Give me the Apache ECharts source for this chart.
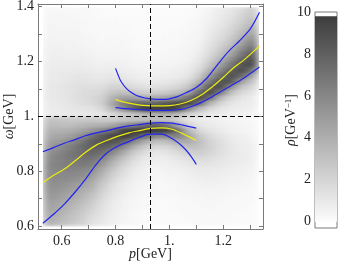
<!DOCTYPE html>
<html><head><meta charset="utf-8">
<script src="https://cdn.jsdelivr.net/npm/echarts@6/dist/echarts.min.js"></script>
<style>html,body{margin:0;padding:0;background:#fff;}
#wrap{position:relative;width:354px;height:264px;}
#heat{position:absolute;filter:url(#smooth);}
#c{position:absolute;left:0;top:0;width:354px;height:264px;}</style>
</head><body>
<svg width="0" height="0" style="position:absolute"><defs>
<filter id="smooth" x="0" y="0" width="1" height="1" color-interpolation-filters="sRGB">
<feGaussianBlur stdDeviation="4 1.8" edgeMode="duplicate"/></filter></defs></svg>
<div id="wrap"><div id="heat"></div><div id="c"></div></div>
<script>
// ---------- data ----------
const pCenters = [0.55,0.59,0.63,0.67,0.71,0.75,0.79,0.83,0.87,0.91,0.95,0.99,1.03,1.07,1.11,1.15,1.19,1.23,1.27,1.31];
const omegaCenters = [0.61,0.63,0.65,0.67,0.69,0.71,0.73,0.75,0.77,0.79,0.81,0.83,0.85,0.87,0.89,0.91,0.93,0.95,0.97,0.99,
  1.01,1.03,1.05,1.07,1.09,1.11,1.13,1.15,1.17,1.19,1.21,1.23,1.25,1.27,1.29,1.31,1.33,1.35,1.37,1.39];
// rho[GeV^-1], one column per p, from omega=0.61 up to omega=1.39
const rhoColumns = [
 [3.8,4.1,4.4,4.7,4.9,5.2,5.4,5.6,5.8,5.9,6.0,6.0,5.8,5.5,5.1,4.7,4.2,3.8,3.4,3.0, 0.8,0.9,0.9,1.0,1.0,1.0,1.0,0.9,0.9,0.8,0.7,0.7,0.6,0.5,0.5,0.4,0.4,0.3,0.3,0.3],
 [3.3,3.6,3.9,4.2,4.5,4.9,5.2,5.5,5.8,6.0,6.2,6.3,6.3,6.1,5.6,5.0,4.4,3.8,3.3,2.8, 0.9,0.9,1.0,1.1,1.1,1.1,1.0,1.0,0.9,0.8,0.7,0.6,0.6,0.5,0.4,0.4,0.3,0.3,0.3,0.2],
 [2.7,3.0,3.3,3.7,4.0,4.4,4.8,5.2,5.6,6.0,6.4,6.6,6.8,6.8,6.4,5.7,4.8,4.0,3.2,2.7, 1.0,1.1,1.2,1.3,1.3,1.3,1.2,1.1,0.9,0.8,0.7,0.6,0.5,0.5,0.4,0.4,0.3,0.3,0.3,0.2],
 [2.2,2.5,2.7,3.0,3.4,3.8,4.2,4.7,5.3,5.8,6.3,6.8,7.1,7.3,7.4,6.7,5.6,4.5,3.5,2.7, 1.0,1.2,1.5,1.6,1.6,1.5,1.3,1.2,1.0,0.8,0.7,0.6,0.5,0.4,0.4,0.3,0.3,0.3,0.2,0.2],
 [1.4,1.6,1.9,2.2,2.6,3.0,3.5,4.0,4.5,5.2,5.9,6.6,7.2,7.8,8.1,8.1,7.0,5.2,3.8,2.7, 1.0,1.3,1.7,1.8,1.7,1.5,1.2,1.1,0.8,0.7,0.6,0.5,0.4,0.3,0.3,0.2,0.2,0.2,0.2,0.2],
 [1.0,1.1,1.3,1.4,1.6,1.9,2.2,2.6,3.1,3.7,4.4,5.3,6.3,7.3,8.2,8.7,8.4,6.1,3.9,2.6, 1.2,1.8,2.3,2.2,1.9,1.6,1.2,1.0,0.8,0.6,0.5,0.4,0.3,0.3,0.2,0.2,0.2,0.2,0.1,0.1],
 [0.6,0.6,0.7,0.8,0.9,1.1,1.3,1.5,1.9,2.3,2.9,3.6,4.6,5.9,7.4,8.8,9.5,7.5,4.4,2.5, 1.9,3.6,4.5,3.8,2.9,2.1,1.5,1.1,0.8,0.7,0.5,0.4,0.4,0.3,0.3,0.2,0.2,0.2,0.1,0.1],
 [0.3,0.4,0.4,0.5,0.5,0.6,0.8,0.9,1.1,1.4,1.7,2.3,3.0,4.2,5.8,7.9,9.8,9.5,5.5,2.9, 2.5,5.8,6.7,4.8,3.1,2.0,1.4,1.0,0.7,0.6,0.5,0.4,0.3,0.3,0.2,0.2,0.2,0.1,0.1,0.1],
 [0.2,0.2,0.2,0.3,0.3,0.4,0.4,0.5,0.6,0.8,1.0,1.3,1.8,2.5,3.8,5.9,8.8,10,6.4,3.0, 2.9,8.1,7.8,4.6,2.7,1.6,1.1,0.8,0.6,0.4,0.3,0.3,0.2,0.2,0.2,0.1,0.1,0.1,0.1,0.1],
 [0.1,0.1,0.1,0.2,0.2,0.2,0.3,0.3,0.4,0.5,0.6,0.8,1.1,1.6,2.5,4.1,7.3,10,7.5,3.1, 3.6,10,7.7,4.0,2.2,1.4,0.9,0.6,0.5,0.4,0.3,0.2,0.2,0.2,0.1,0.1,0.1,0.1,0.1,0.1],
 [0.1,0.1,0.1,0.1,0.1,0.2,0.2,0.2,0.3,0.3,0.4,0.6,0.8,1.1,1.8,3.1,5.9,10,8.1,3.1, 4.0,10,7.9,4.1,2.3,1.4,0.9,0.7,0.5,0.4,0.3,0.2,0.2,0.2,0.1,0.1,0.1,0.1,0.1,0.1],
 [0.1,0.1,0.1,0.1,0.1,0.2,0.2,0.2,0.3,0.4,0.5,0.6,0.8,1.2,1.9,3.2,5.9,9.5,7.0,2.9, 4.1,10,8.4,4.6,2.6,1.6,1.1,0.7,0.6,0.4,0.3,0.3,0.2,0.2,0.2,0.1,0.1,0.1,0.1,0.1],
 [0.1,0.1,0.1,0.2,0.2,0.2,0.3,0.3,0.4,0.5,0.6,0.8,1.2,1.7,2.6,4.1,6.3,7.5,4.5,2.2, 3.4,9.5,9.1,5.4,3.1,1.9,1.3,0.9,0.7,0.5,0.4,0.3,0.3,0.2,0.2,0.2,0.1,0.1,0.1,0.1],
 [0.1,0.2,0.2,0.2,0.2,0.3,0.3,0.4,0.5,0.6,0.8,1.1,1.5,2.2,3.1,4.2,4.8,3.6,2.1,1.2, 2.2,5.8,9.4,7.0,4.3,2.7,1.8,1.2,0.9,0.7,0.5,0.4,0.4,0.3,0.3,0.2,0.2,0.2,0.1,0.1],
 [0.2,0.2,0.2,0.2,0.3,0.3,0.4,0.5,0.6,0.8,1.0,1.4,1.8,2.4,2.9,3.2,2.8,1.9,1.2,0.8, 1.6,3.4,7.4,9.3,7.5,5.2,3.5,2.4,1.7,1.3,1.0,0.8,0.6,0.5,0.4,0.4,0.3,0.3,0.2,0.2],
 [0.2,0.2,0.2,0.3,0.3,0.4,0.4,0.5,0.7,0.8,1.0,1.3,1.6,2.0,2.2,2.1,1.8,1.3,0.9,0.7, 1.0,1.9,3.7,7.3,9.3,8.3,6.7,5.0,3.8,2.8,2.2,1.7,1.4,1.2,1.0,0.9,0.7,0.6,0.5,0.4],
 [0.2,0.2,0.2,0.2,0.3,0.3,0.4,0.5,0.6,0.7,0.9,1.1,1.3,1.5,1.6,1.5,1.2,0.9,0.7,0.5, 0.8,1.2,2.0,3.5,6.6,9.1,8.7,7.5,6.0,4.8,3.8,3.0,2.4,2.0,1.6,1.4,1.2,1.0,0.9,0.8],
 [0.1,0.2,0.2,0.2,0.2,0.3,0.3,0.4,0.5,0.6,0.7,0.9,1.0,1.1,1.1,1.0,0.8,0.6,0.5,0.4, 0.6,0.9,1.2,1.9,3.1,5.5,8.6,8.9,8.1,6.9,5.7,4.6,3.7,3.0,2.5,2.1,1.8,1.5,1.3,1.1],
 [0.1,0.1,0.1,0.2,0.2,0.2,0.3,0.3,0.4,0.5,0.6,0.7,0.8,0.8,0.8,0.7,0.6,0.4,0.4,0.3, 0.5,0.7,0.9,1.2,1.8,2.8,4.6,7.5,9.1,8.8,7.9,6.8,5.7,4.7,3.8,3.2,2.7,2.3,2.0,1.7],
 [0.1,0.1,0.1,0.1,0.2,0.2,0.2,0.3,0.3,0.4,0.5,0.6,0.6,0.6,0.6,0.5,0.4,0.3,0.3,0.2, 0.4,0.6,0.8,0.9,1.3,1.9,2.8,4.3,6.8,9.1,9.1,8.5,7.5,6.5,5.5,4.6,3.9,3.3,2.8,2.4]
];
// lower branch curves
const pLowUpper = [0.53,0.57,0.61,0.65,0.69,0.73,0.77,0.81,0.85,0.89,0.93,0.97,1.01,1.05,1.10];
const wLowUpper = [0.871,0.886,0.902,0.915,0.930,0.940,0.948,0.958,0.965,0.970,0.975,0.977,0.975,0.968,0.957];
const pLowMean = [0.53,0.57,0.61,0.65,0.69,0.73,0.77,0.81,0.85,0.89,0.93,0.97,1.01,1.05,1.10];
const wLowMean = [0.758,0.785,0.808,0.838,0.870,0.896,0.913,0.928,0.940,0.948,0.956,0.958,0.953,0.937,0.912];
const pLowLower = [0.53,0.57,0.61,0.65,0.69,0.73,0.77,0.81,0.85,0.89,0.93,0.97,1.01,1.05,1.08,1.10];
const wLowLower = [0.610,0.643,0.680,0.724,0.773,0.827,0.868,0.892,0.908,0.924,0.935,0.935,0.919,0.889,0.855,0.825];
// upper branch curves
const pUpUpper = [0.80,0.81,0.82,0.84,0.86,0.88,0.91,0.94,0.97,1.00,1.03,1.06,1.10,1.14,1.18,1.22,1.26,1.30,1.335];
const wUpUpper = [1.175,1.150,1.128,1.102,1.086,1.075,1.067,1.063,1.062,1.064,1.072,1.085,1.105,1.140,1.190,1.237,1.275,1.318,1.380];
const pUpMean = [0.80,0.84,0.88,0.92,0.96,1.00,1.04,1.08,1.12,1.16,1.20,1.24,1.28,1.335];
const wUpMean = [1.061,1.050,1.043,1.039,1.038,1.039,1.045,1.058,1.079,1.108,1.142,1.178,1.208,1.257];
const pUpLower = [0.80,0.84,0.88,0.92,0.96,1.00,1.04,1.08,1.12,1.16,1.20,1.24,1.28,1.335];
const wUpLower = [1.032,1.028,1.025,1.023,1.022,1.022,1.025,1.035,1.051,1.072,1.095,1.118,1.142,1.180];
// reference lines
const refP = 0.933;
const refOmega = 1.0;
// ticks
const pTicks = [0.6,0.7,0.8,0.9,1.0,1.1,1.2,1.3];
const pLabels = [0.6,0.8,1.0,1.2];
const wTicks = [0.6,0.7,0.8,0.9,1.0,1.1,1.2,1.3,1.4];
const wLabels = [0.6,0.8,1.0,1.2,1.4];
const barTicks = [0,2,4,6,8,10];
const rhoMax = 10;
const barTop = 9.8;

// ---------- chart ----------
const FONT = 'Liberation Serif';
const FS = 14;
const frameColor = '#7a7a7a';
const txt = '#222';
const cellW = 0.04, cellH = 0.02;
const heatPMin = 0.53, heatPMax = 1.33, heatWMin = 0.60, heatWMax = 1.40;
const cells = [];
pCenters.forEach((p, j) => omegaCenters.forEach((w, i) => cells.push([p, w, rhoColumns[j][i]])));
const zip = (a, b) => a.map((v, i) => [v, b[i]]);
const fmt = v => Math.abs(v - 1) < 1e-9 ? '1.' : v.toFixed(1);
const italic = {fontFamily: FONT, fontSize: FS, fontStyle: 'italic', color: txt};

const chart = echarts.init(document.getElementById('c'), null, {renderer: 'canvas'});
const baseX = {type: 'value', gridIndex: 0, min: 0.512, max: 1.348, splitLine: {show: false},
  axisLine: {show: true, onZero: false, lineStyle: {color: frameColor, width: 1}},
  axisTick: {show: true, inside: true, length: 4, customValues: pTicks, lineStyle: {color: frameColor}}};
const baseY = {type: 'value', gridIndex: 0, min: 0.589, max: 1.410, splitLine: {show: false},
  axisLine: {show: true, onZero: false, lineStyle: {color: frameColor, width: 1}},
  axisTick: {show: true, inside: true, length: 4, customValues: wTicks, lineStyle: {color: frameColor}}};
const lineS = (p, w, color) => ({type: 'line', xAxisIndex: 0, yAxisIndex: 0, data: zip(p, w), showSymbol: false,
  smooth: 0.3, lineStyle: {color, width: 1.2}, itemStyle: {color}, z: 4, silent: true, animation: false});

chart.setOption({
  animation: false,
  backgroundColor: 'transparent',
  grid: [
    {left: 38, top: 4, width: 225, height: 225, containLabel: false, outerBoundsMode: 'none'},
    {left: 315, top: 12, width: 22, height: 216, containLabel: false, outerBoundsMode: 'none',
      show: true, borderColor: frameColor, borderWidth: 1}
  ],
  xAxis: [
    Object.assign({}, baseX, {position: 'bottom',
      axisLabel: {customValues: pLabels, formatter: fmt, margin: 5, fontFamily: FONT, fontSize: FS, color: txt},
      name: '{i|p}[GeV]', nameLocation: 'middle', nameGap: 18, nameMoveOverlap: false,
      nameTextStyle: {fontFamily: FONT, fontSize: FS, color: txt, rich: {i: italic}}}),
    Object.assign({}, baseX, {position: 'top', axisLabel: {show: false}}),
    {type: 'category', gridIndex: 1, data: ['rho'], show: false}
  ],
  yAxis: [
    Object.assign({}, baseY, {position: 'left',
      axisLabel: {customValues: wLabels, formatter: fmt, margin: 4, fontFamily: FONT, fontSize: FS, color: txt},
      name: '{i|ω}[GeV]', nameLocation: 'middle', nameGap: 22, nameMoveOverlap: false,
      nameTextStyle: {fontFamily: FONT, fontSize: FS, color: txt, rich: {i: italic}}}),
    Object.assign({}, baseY, {position: 'right', axisLabel: {show: false}}),
    {type: 'value', gridIndex: 1, min: -0.3, max: rhoMax, position: 'left', splitLine: {show: false},
      axisLine: {show: false}, axisTick: {show: false},
      axisLabel: {customValues: barTicks, margin: 4, fontFamily: FONT, fontSize: FS, color: txt},
      name: '{i|ρ}[GeV{s|−1}]', nameLocation: 'middle', nameGap: 17, nameMoveOverlap: false,
      nameTextStyle: {fontFamily: FONT, fontSize: FS, color: txt, rich: {
        i: italic,
        s: {fontFamily: FONT, fontSize: 9, color: txt, verticalAlign: 'top', lineHeight: 14}}}}
  ],
  series: [
    Object.assign(lineS(pLowUpper, wLowUpper, '#2323f0'), {markLine: {silent: true, symbol: ['none', 'none'],
      label: {show: false}, lineStyle: {type: [5, 3], color: '#000', width: 1}, animation: false,
      data: [{xAxis: refP}, {yAxis: refOmega}]}}),
    lineS(pLowMean, wLowMean, '#ecec10'),
    lineS(pLowLower, wLowLower, '#2323f0'),
    lineS(pUpUpper, wUpUpper, '#2323f0'),
    lineS(pUpMean, wUpMean, '#ecec10'),
    lineS(pUpLower, wUpLower, '#2323f0'),
    {type: 'bar', xAxisIndex: 2, yAxisIndex: 2, data: [barTop], barWidth: '100%', silent: true,
      itemStyle: {color: new echarts.graphic.LinearGradient(0, 1, 0, 0, [{offset: 0, color: '#fcfcfc'}, {offset: 1, color: '#3d3d3d'}])}}
  ]
});

// heat map layer, placed under the plot area through the main chart's scales
const tl = chart.convertToPixel({gridIndex: 0}, [heatPMin, heatWMax]);
const br = chart.convertToPixel({gridIndex: 0}, [heatPMax, heatWMin]);
const heatDiv = document.getElementById('heat');
Object.assign(heatDiv.style, {left: tl[0] + 'px', top: tl[1] + 'px', width: (br[0] - tl[0]) + 'px', height: (br[1] - tl[1]) + 'px'});
const heat = echarts.init(heatDiv, null, {renderer: 'canvas'});
heat.setOption({
  animation: false,
  grid: {left: 0, right: 0, top: 0, bottom: 0, containLabel: false, outerBoundsMode: 'none'},
  xAxis: {type: 'value', min: heatPMin, max: heatPMax, show: false},
  yAxis: {type: 'value', min: heatWMin, max: heatWMax, show: false},
  visualMap: {type: 'continuous', show: false, min: 0, max: rhoMax, dimension: 2, seriesIndex: 0,
    inRange: {color: ['#fcfcfc', '#3a3a3a']}},
  series: [{type: 'custom', coordinateSystem: 'cartesian2d', data: cells, encode: {x: 0, y: 1}, clip: true, silent: true,
    renderItem: (params, api) => {
      const x = api.value(0), y = api.value(1);
      const a = api.coord([x - cellW / 2, y + cellH / 2]);
      const b = api.coord([x + cellW / 2, y - cellH / 2]);
      return {type: 'rect', shape: {x: a[0], y: a[1], width: b[0] - a[0] + 0.5, height: b[1] - a[1] + 0.5},
        style: {fill: api.visual('color')}};
    }}]
});
</script></body></html>
